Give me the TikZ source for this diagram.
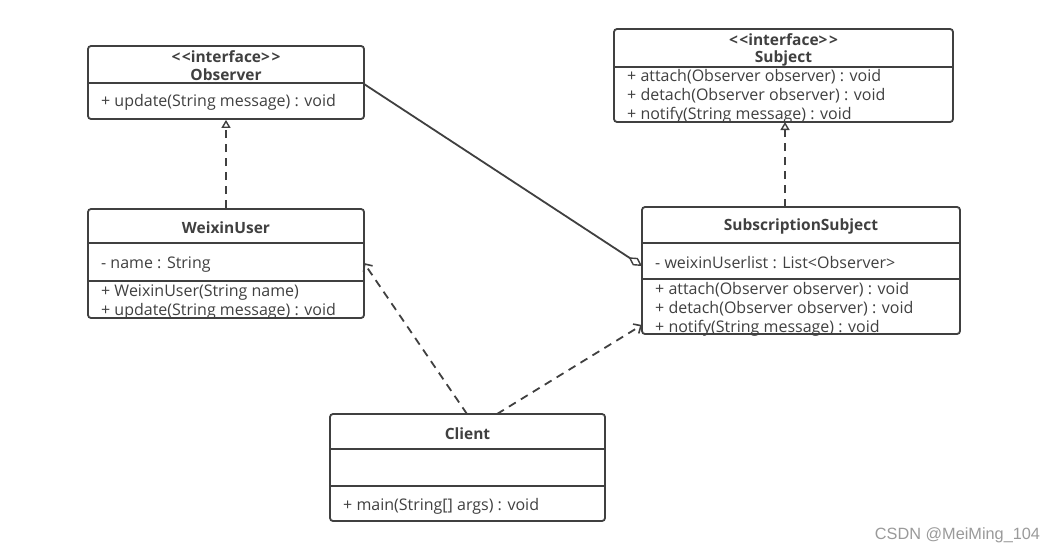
\documentclass[tikz,border=0pt]{standalone}
\usepackage{fontspec}
\setmainfont{Open Sans}
\usetikzlibrary{arrows.meta}
\definecolor{ln}{HTML}{404040}
\definecolor{tx}{HTML}{404040}
\definecolor{wm}{HTML}{9A9A9A}
\newcommand{\stereo}{\textless\kern1.5pt\textless interface\textgreater\kern1.5pt\textgreater}
\tikzset{
  cls/.style={draw=ln, line width=1.8pt, rounded corners=3pt, fill=white, inner sep=0pt},
  divl/.style={draw=ln, line width=1.6pt},
  ttl/.style={font=\bfseries\fontsize{15.5}{17}\selectfont, text=tx, inner sep=0pt},
  mem/.style={font=\fontsize{16}{18}\selectfont, text=tx, anchor=west, inner sep=0pt},
  real/.style={draw=ln, line width=1.8pt, dash pattern=on 8pt off 6pt, -{Triangle[open,length=8pt,width=9pt,line width=1.4pt]}},
  dep/.style={draw=ln, line width=1.8pt, dash pattern=on 8pt off 6pt, -{Straight Barb[length=6pt,width=11pt,line width=1.6pt]}},
  agg/.style={draw=ln, line width=1.8pt, {Diamond[open,length=16pt,width=9pt,line width=1.4pt]}-},
}
\begin{document}
\begin{tikzpicture}[x=1pt,y=-1pt]
\useasboundingbox[fill=white] (0,0) rectangle (1054,554);

% Observer
\node[cls, minimum width=276pt, minimum height=73pt] (obs) at (226,82.5) {};
\draw[divl] (88,83) -- (364,83);
\node[ttl] (obsst) at (226,57) {\stereo};
\node[ttl] (obsnm) at (226,75) {Observer};
\node[mem] (obsm1) at (101,102) {+ update(String message) : void};

% Subject
\node[cls, minimum width=339pt, minimum height=93pt] (sub) at (783.5,75.5) {};
\draw[divl] (614,67) -- (953,67);
\node[ttl] (subst) at (783.5,40) {\stereo};
\node[ttl] (subnm) at (783.5,58.5) {Subject};
\node[mem] (subm1) at (627,77) {+ attach(Observer observer) : void};
\node[mem] (subm2) at (627,96) {+ detach(Observer observer) : void};
\node[mem] (subm3) at (627,115) {+ notify(String message) : void};

% WeixinUser
\node[cls, minimum width=276pt, minimum height=109pt] (wx) at (226,263.5) {};
\draw[divl] (88,243) -- (364,243);
\draw[divl] (88,281) -- (364,281);
\node[ttl] (wxnm) at (226,228) {WeixinUser};
\node[mem] (wxa1) at (101,265) {- name : String};
\node[mem] (wxm1) at (101,293) {+ WeixinUser(String name)};
\node[mem] (wxm2) at (101,311) {+ update(String message) : void};

% SubscriptionSubject
\node[cls, minimum width=318pt, minimum height=127pt] (ss) at (801,270.5) {};
\draw[divl] (642,243) -- (960,243);
\draw[divl] (642,279) -- (960,279);
\node[ttl] (ssnm) at (801,226) {SubscriptionSubject};
\node[mem] (ssa1) at (655,263) {- weixinUserlist : List\textless Observer\textgreater};
\node[mem] (ssm1) at (655,290) {+ attach(Observer observer) : void};
\node[mem] (ssm2) at (655,309) {+ detach(Observer observer) : void};
\node[mem] (ssm3) at (655,328) {+ notify(String message) : void};

% Client
\node[cls, minimum width=275pt, minimum height=107pt] (cl) at (467.5,467.5) {};
\draw[divl] (330,449) -- (605,449);
\draw[divl] (330,486) -- (605,486);
\node[ttl] (clnm) at (467.5,434) {Client};
\node[mem] (clm1) at (343,506) {+ main(String[] args) : void};

% anchor points of connectors
\coordinate (ssTop) at (785,207);
\coordinate (subBot) at (785,122);
\coordinate (ssDia) at (642,266);
\coordinate (obsR) at (364,84);
\coordinate (clA) at (467,414);
\coordinate (wxR) at (364,263);
\coordinate (clB) at (497,414);
\coordinate (ssL) at (642,325);

% connectors
\draw[real] (wx.north) -- (obs.south);
\draw[real] (ssTop) -- (subBot);
\draw[agg] (ssDia) -- (obsR);
\draw[dep] (clA) -- (wxR);
\draw[dep] (clB) -- (ssL);

% watermark
\node[font={\fontspec{Liberation Sans}\fontsize{16.3}{18}\selectfont}, text=wm, inner sep=0pt] (wmk) at (957.5,535) {CSDN @MeiMing\_104};
\end{tikzpicture}
\end{document}
